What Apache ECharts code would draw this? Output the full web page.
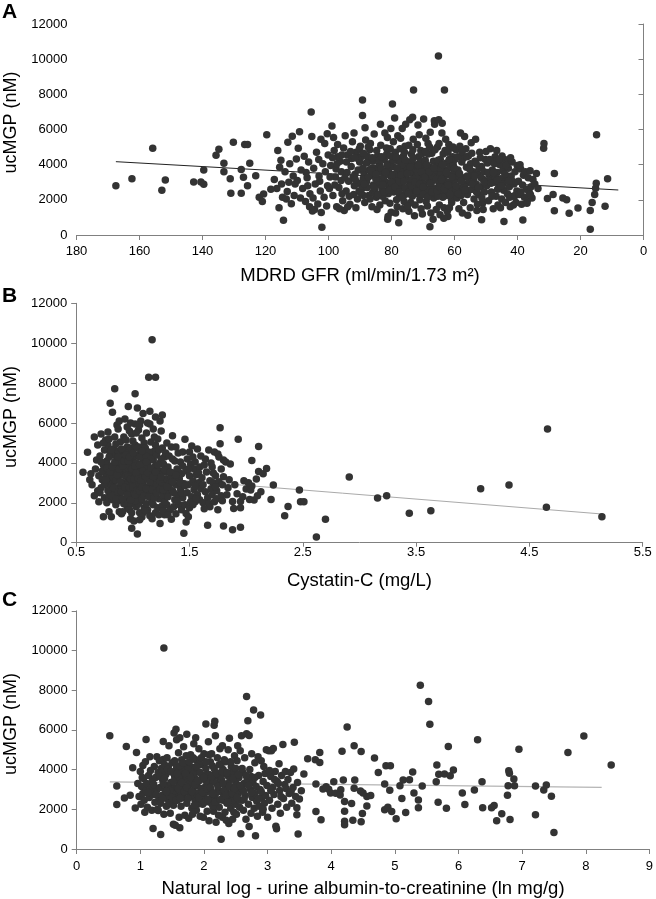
<!DOCTYPE html>
<html>
<head>
<meta charset="utf-8">
<script src="https://cdn.jsdelivr.net/npm/echarts@6/dist/echarts.min.js"></script>
<style>
html,body{margin:0;padding:0;background:#fff;}
#chart{width:656px;height:899px;}
</style>
</head>
<body>
<div id="chart"></div>
<script>
// ---------- tick values ----------
const yTicks = [0, 2000, 4000, 6000, 8000, 10000, 12000];
const aTicksX = [0, 20, 40, 60, 80, 100, 120, 140, 160, 180];
const bTicksX = [0.5, 1.5, 2.5, 3.5, 4.5, 5.5];
const cTicksX = [0, 1, 2, 3, 4, 5, 6, 7, 8, 9];

// ---------- texts ----------
const panelLetters = ['A', 'B', 'C'];
const yName = 'ucMGP (nM)';
const xNames = ['MDRD GFR (ml/min/1.73 m\u00b2)', 'Cystatin-C (mg/L)', 'Natural log - urine albumin-to-creatinine (ln mg/g)'];

// ---------- panel A : MDRD GFR vs ucMGP ----------
const gfrOutliers = [[167.5,2800],[162.4,3200],[155.8,4930],[152.9,2540],[151.8,3130],[142.8,3010],[140.5,3010],[139.6,2880],[139.6,3700],[135.7,4530],[134.8,4870],[133.2,4080],[133.2,3600],[131.2,3200],[131,2370],[130.2,5270],[127.7,3730],[127.7,2370],[127,3280],[126.6,5150],[125.7,5150],[125.7,2800],[125,4080],[123.1,3370],[122,2140],[121,1900],[120.6,2330],
[31.7,4930],[31.6,5200],[28.3,3500],[30.5,2070],[28.7,2300],[28.3,1380],[25.6,2100],[24.4,2000],[23.6,1240],[20.8,1530],[16.9,1390],[16.9,320],[16.3,1850],[15.5,2300],[15.2,2660],[15,2950],[14.9,5700],[12.2,1640],[11.4,3200]];
const gfrBand1 = [[119.6,5700],[116.1,4800],[115.7,1550],[114.3,840],[112.9,5270],[111.5,5620],[117.2,3150],[116.4,2650],[115.1,4250],[114.6,2150],[113.8,3600],[113.1,2480],[112.3,4050],[111.8,1780],[111.2,3350],[110.6,2900],[110.2,4320],[114.9,2900],[113.4,2050],[118.3,2600],[112.6,3000],[110.9,2250],[115.5,3850]];
const gfrBand2 = [[109.2,5870],[105.5,7000],[105.3,5600],[102.1,440],[109.6,4930],[108.7,3700],[108.2,2650],[107.7,4480],[107.3,1900],[106.8,3250],[106.3,4150],[105.9,2350],[105.1,1370],[104.7,3800],[104.2,2900],[103.8,4700],[103.4,1760],[103,3350],[102.6,2500],[102.3,1280],[101.8,4050],[101.4,2150],[101,3600],[100.6,1650],[100.3,2800],[100.1,4550],[108.9,2100],[107.1,3550],[104.9,2100],[103.1,4300],[101.2,5200],[100.4,5760],[106,1600],[109.9,3100],[104.4,1450],[102.8,3050],[106.6,2800],[102.4,5450]];
const gfrBand3 = [[99.3,3950],[98.9,6200],[98.6,2250],[98.2,4800],[97.8,3300],[97.4,1600],[97.1,5150],[96.7,2700],[96.3,4200],[95.9,3600],[95.5,1950],[95,1390],[94.7,5650],[94.4,2500],[94,4550],[93.6,3050],[93.2,1750],[92.8,3900],[92.4,5300],[92,2300],[91.6,3450],[91.2,4700],[90.8,2050],[90.4,2950],[90.1,4150],[99.7,2650],[98,2850],[97,4450],[96,3100],[95.2,4950],[94.1,3550],[93.4,2200],[92.6,4350],[91.8,2800],[90.6,3700],[89.9,5050],[96.5,1500],[93.9,1600],[91.3,1550],[99.5,3300],[97.6,3750],[95.7,2350],[94.8,3250],[92.2,3300],[90.3,2500],[98.4,5550],[91.9,5800],[89.2,7680],[89.2,6790],[88.4,6100]];
const gfrBand4 = [[79.7,7450],[77.7,700],[89.6,4450],[89.3,2650],[88.8,3550],[88.5,1850],[88.2,5400],[87.9,3050],[87.6,4150],[87.2,2250],[86.9,4850],[86.5,3400],[86.2,1600],[85.8,2850],[85.5,5750],[85.1,3800],[84.8,2150],[84.4,4500],[84.1,3200],[83.7,1700],[83.4,5100],[83,2600],[82.7,3650],[82.3,4300],[82,1950],[81.7,3000],[81.3,5550],[81,2350],[80.6,4050],[80.3,3350],[80.1,1300],[88.9,2250],[87.1,3700],[86,2400],[85.2,4350],[84.6,1450],[83.2,3000],[82.1,5800],[81.5,4600],[80.8,2800],[80.2,6050],[86.7,5200],[84,3600],[82.9,2200],[81.2,900],[80.5,1800],[87.7,2700],[85.4,2550],[83.8,4000],[82.5,3300],[81.8,2500],[80.9,3700],[88,4100],[86.3,3800],[84.2,2850],[83.5,6300],[81.1,1050],[89,3200],[85,3200],[80.4,4900]];
const gfrBand5 = [[73,8250],[79.6,3900],[79.3,2450],[79,6650],[78.8,4700],[78.5,3150],[78.2,1600],[78,5650],[77.8,3550],[77.5,2150],[77.2,4350],[76.9,2850],[76.6,6050],[76.3,3700],[76,1900],[75.7,5050],[75.4,3300],[75.1,2550],[74.8,4150],[74.5,1350],[74.2,6550],[74,3000],[73.7,4600],[73.4,2200],[73.1,5450],[72.8,3500],[72.5,1700],[72.2,4000],[71.9,2800],[71.6,6250],[71.3,3250],[71,2000],[70.7,4800],[70.4,3050],[70.2,1200],[79.8,2900],[79.1,3450],[78.4,2000],[77.9,4200],[77.4,2700],[76.8,3350],[76.2,4500],[75.8,2300],[75.2,3850],[74.7,2750],[74.3,3550],[73.9,1850],[73.5,3150],[72.9,2550],[72.4,3750],[71.8,2350],[71.4,4450],[70.8,2650],[70.3,3900],[79.4,5300],[77.1,5500],[75.5,6300],[73.3,6700],[71.2,5700],[78.7,1250],[76.4,1500],[74.9,1650],[72.7,1100],[70.6,1500],[79.9,3400],[77.6,3000],[75.9,2650],[74.4,2450],[72.1,3300],[70.1,3500],[78.1,2600],[76.7,4000],[73.8,4100],[71.7,3600],[70.9,4150]];
const gfrBand6 = [[67.8,470],[65.1,10180],[63.2,8250],[69.8,6600],[69.6,2900],[69.3,4250],[69,1900],[68.7,3500],[68.4,5200],[68.1,2400],[67.8,3850],[67.5,1250],[67.2,4650],[66.9,3100],[66.6,2100],[66.3,6300],[66,3600],[65.7,2650],[65.4,5000],[65.1,3300],[64.8,1700],[64.5,4300],[64.2,2500],[63.9,6350],[63.6,3050],[63.3,1550],[63,4800],[62.7,2250],[62.4,3700],[62.1,1050],[61.8,5150],[61.5,2700],[61.2,3400],[60.9,1850],[60.6,4450],[60.3,2950],[60.1,2300],[69.5,3700],[68.9,2600],[68.2,3200],[67.4,2800],[66.7,4200],[66.1,2350],[65.5,3950],[64.9,2950],[64.3,3550],[63.7,2150],[63.1,3350],[62.5,4100],[61.9,2450],[61.3,3850],[60.7,2600],[60.2,3550],[69.1,5500],[67.7,5850],[66.4,6500],[65,6550],[64,5800],[62.8,5450],[61.1,4950],[68.6,1650],[66.8,900],[65.8,1450],[64.6,1150],[63.4,950],[62.3,1350],[61.6,1550],[69.9,2300],[68.3,4600],[67,3350],[65.3,2200],[64.4,3800],[63.5,2750],[62.2,3000],[61,2050],[60.4,4000]];
const gfrBand7 = [[55.8,1130],[51.4,870],[59.8,3150],[59.5,4850],[59.2,2100],[58.9,3700],[58.6,1500],[58.3,5050],[58,2650],[57.7,4150],[57.4,3250],[57.1,1850],[56.8,5600],[56.5,2900],[56.2,3850],[55.9,2300],[55.6,4500],[55.3,3100],[55,1550],[54.7,5250],[54.4,2600],[54.1,3600],[53.8,2050],[53.5,4200],[53.2,2900],[52.9,1400],[52.6,3450],[52.3,2300],[52,4700],[51.7,2750],[51.4,3900],[51.1,1800],[50.8,3150],[50.5,2450],[50.2,4300],[59.6,2600],[58.7,3350],[57.9,2250],[57.2,2750],[56.4,4900],[55.4,2550],[54.6,3450],[53.9,3050],[53,2450],[52.2,3800],[51.3,2100],[50.6,3600],[59.9,4300],[58.1,5800],[54.9,4050],[53.3,5450],[57.5,1250],[52.7,1750],[50.9,1450]];
const gfrBand8 = [[44.3,770],[38.3,860],[49.8,2800],[49.5,4100],[49.2,1950],[48.9,3400],[48.6,4900],[48.3,2450],[48,3700],[47.7,1500],[47.4,3000],[47.1,4450],[46.8,2200],[46.5,3550],[46.2,1700],[45.9,2750],[45.6,4000],[45.3,3200],[45,2050],[44.7,3650],[44.4,2550],[44.1,4300],[43.8,1850],[43.5,3100],[43.2,2350],[42.9,3800],[42.6,2750],[42.3,1600],[42,3350],[41.7,4150],[41.4,2200],[41.1,2900],[40.8,3600],[40.5,1850],[40.2,2500],[49,3100],[48.1,2200],[47.2,3300],[46.3,2600],[45.4,1550],[44.6,2900],[43.4,3350],[42.5,2150],[41.6,3050],[40.7,2250],[47.9,4200],[46.6,4800],[44.9,4500],[43,4150],[41.3,1700],[40.1,3950]];
const gfrBand9 = [[39.7,3050],[39.4,2300],[39,3750],[38.7,1750],[38.4,2850],[38.1,3400],[37.8,2150],[37.5,3600],[37.2,2600],[36.9,1950],[36.6,3250],[36.3,2450],[36,3650],[35.7,2750],[35.4,2100],[35.1,3150],[34.5,2900],[34,3500],[33.5,2650],[39.2,4000],[37,1800],[35.9,2300],[38.9,2450]];
const gfrCore = [[91.5,3150],[90.7,4350],[89.8,2400],[89.1,3800],[88.6,2900],[87.8,4500],[87.3,3300],[86.8,2050],[86.4,3650],[85.9,4200],[85.6,2700],[84.9,3450],[84.3,2300],[83.9,4250],[83.3,3800],[82.8,2850],[82.4,2450],[81.9,3550],[81.4,4000],[80.7,2550],[80,3000],[79.5,4250],[78.9,2750],[78.3,3800],[77.7,2450],[77,3400],[76.5,2150],[76.1,3050],[75.6,4250],[75,3500],[74.6,2350],[74.1,3850],[73.6,2800],[73.2,4350],[72.6,3000],[72,2500],[71.5,3950],[71.1,2900],[70.5,3600],[70,2750],[69.4,3300],[68.8,4000],[68.5,2150],[68,3600],[67.6,2950],[67.1,2450],[66.5,3800],[65.9,3150],[65.6,2500],[65.2,4250],[64.7,2750],[64.1,3150],[63.8,4000],[63.2,2650],[62.6,3550],[62,2850],[61.7,4300],[61.4,2300],[60.8,3300],[60,3800],[59.4,2800],[58.8,2350],[58.4,3500],[57.8,3050],[57.3,4350],[56.7,2550],[56,3350],[55.2,3750],[54.3,2900],[53.6,3350],[52.4,2700],[51.6,3250],[50.4,3000],[49.4,3550],[48.4,2950],[47.6,3550],[46.4,3100],[45.1,2800],[44,3450],[42.8,3050]];
const gfrUpper = [[98.7,4400],[97.3,4050],[95.8,4550],[94.3,4150],[93,4750],[91.7,4400],[90.2,4900],[88.9,4650],[87.4,5000],[86.1,4400],[84.7,4800],[83.1,4450],[81.6,4950],[80.4,4500],[78.6,4450],[77.3,4900],[75.9,4700],[74.5,5100],[73.2,4850],[71.8,5150],[70.4,4600],[69.2,4750],[67.9,5000],[66.2,4850],[64.9,5200],[63.6,4600],[62.1,4700],[60.5,5000],[59,4450],[57.6,4700],[56.1,4450],[54.5,4650],[53.1,4050],[51.8,4400],[50,4750],[48.8,4300],[47.3,4050],[45.8,4300],[43.7,3950],[42.2,4400]];
const gfrFit = [[167.5,4170],[8,2560]];

// ---------- panel B : Cystatin-C vs ucMGP ----------
const cysBand1 = [[0.56,3530],[0.60,4540],[0.62,3150],[0.64,2900],[0.66,5300],[0.67,3700],[0.68,4150],[0.69,2600],[0.7,3350],[0.66,2350],[0.69,4900],[0.63,3450],[0.7,2050],
[0.71,4350],[0.72,5450],[0.72,2750],[0.73,3150],[0.74,1300],[0.74,3900],[0.75,4650],[0.75,2250],[0.76,5150],[0.76,3450],[0.77,2000],[0.77,4100],[0.78,2950],[0.78,5550],[0.79,3650],[0.79,1550],[0.80,6990],[0.80,2600],[0.80,4450],[0.73,3600],[0.75,2900],[0.78,4900],[0.71,2500],[0.79,2300],[0.76,4000],[0.77,3300],[0.74,5000],[0.72,4050],[0.8,3250],[0.79,5200]];
const cysBand2 = [[0.81,1300],[0.81,3850],[0.82,6540],[0.82,2150],[0.83,4700],[0.83,3050],[0.84,7716],[0.84,2500],[0.84,5300],[0.85,3500],[0.85,1900],[0.86,4200],[0.86,2750],[0.87,5700],[0.87,3250],[0.88,1550],[0.88,4550],[0.88,2300],[0.89,3800],[0.89,5050],[0.9,2900],[0.9,4350],[0.9,1450],[0.82,4400],[0.83,3550],[0.85,4950],[0.86,3900],[0.87,2100],[0.88,3400],[0.89,2650],[0.81,2800],[0.84,3150],[0.86,5900],[0.89,4100],[0.83,2450],[0.85,4400],[0.87,4600],[0.9,3650],[0.82,3300],[0.88,6100]];
const cysBand3 = [[0.91,1550],[0.91,3400],[0.92,5300],[0.92,2600],[0.93,4050],[0.93,6200],[0.94,2200],[0.94,3700],[0.95,4800],[0.95,1800],[0.96,6825],[0.96,3000],[0.96,4450],[0.97,2400],[0.97,5600],[0.98,3550],[0.98,1200],[0.99,723],[0.99,4250],[0.99,2800],[1.0,5100],[1.0,3250],[1.0,1950],[0.92,3000],[0.93,4600],[0.94,2900],[0.95,3300],[0.95,5800],[0.97,3900],[0.97,2000],[0.98,4750],[0.98,2600],[0.99,3100],[1.0,4050],[1.0,2450],[0.91,4300],[0.94,5150],[0.96,2350],[0.99,5450],[0.93,3350],[0.96,3750],[0.92,1950],[0.97,1650],[0.99,1500],[0.95,2650],[0.98,6000]];
const cysBand4 = [[1.01,1093],[1.01,3650],[1.02,7463],[1.02,2750],[1.02,4900],[1.03,1800],[1.03,3200],[1.04,6757],[1.04,437],[1.04,4400],[1.05,2300],[1.05,5650],[1.05,3750],[1.06,1500],[1.06,2950],[1.07,4650],[1.07,2100],[1.07,6100],[1.08,1294],[1.08,3400],[1.08,5250],[1.09,6470],[1.09,2550],[1.09,4100],[1.1,1750],[1.1,3550],[1.1,5000],[1.01,4300],[1.03,5500],[1.03,2450],[1.04,3450],[1.05,1950],[1.06,4300],[1.06,3300],[1.07,2600],[1.08,3950],[1.08,2200],[1.09,3050],[1.1,2800],[1.1,4550],[1.02,2100],[1.04,3000],[1.06,5900],[1.09,1500],[1.01,2550],[1.05,4800],[1.07,3700],[1.03,4000],[1.02,5950],[1.06,1150]];
const cysBand5 = [[1.11,4750],[1.11,2350],[1.12,3200],[1.12,5500],[1.13,1650],[1.13,4000],[1.14,8287],[1.14,2800],[1.15,6590],[1.15,3650],[1.15,1350],[1.16,5050],[1.16,2250],[1.17,10170],[1.17,4300],[1.17,3000],[1.18,1900],[1.18,5700],[1.18,3550],[1.19,2600],[1.19,4600],[1.2,8287],[1.2,6300],[1.2,1500],[1.2,3850],[1.11,3800],[1.12,1950],[1.13,2600],[1.14,4550],[1.15,5950],[1.16,3350],[1.17,2050],[1.18,4150],[1.19,3200],[1.2,2400],[1.12,4350],[1.14,3400],[1.16,4200],[1.19,5300],[1.13,6000],[1.18,2750],[1.11,1600],[1.15,2550],[1.2,4900],[1.17,1200]];
const cysBand6 = [[1.21,2900],[1.21,4400],[1.22,1750],[1.22,5200],[1.23,3300],[1.23,2200],[1.24,958],[1.24,4000],[1.24,6100],[1.25,2600],[1.25,3600],[1.26,6405],[1.26,1850],[1.26,4750],[1.27,3000],[1.27,2350],[1.28,4300],[1.28,1400],[1.29,3550],[1.29,2700],[1.3,5000],[1.3,1900],[1.3,3200],[1.21,3700],[1.22,2600],[1.23,4650],[1.25,4200],[1.25,5600],[1.27,3950],[1.28,2050],[1.29,4500],[1.3,2500],[1.23,1400],[1.27,1600],[1.24,3100],[1.26,2850]];
const cysBand7 = [[1.31,3800],[1.31,2300],[1.32,4350],[1.33,1650],[1.33,3000],[1.34,1177],[1.34,4800],[1.35,5360],[1.35,2600],[1.36,1800],[1.36,3500],[1.37,4100],[1.37,2150],[1.38,2900],[1.38,1450],[1.39,3700],[1.4,4500],[1.4,2400],[1.41,3200],[1.41,1900],[1.42,4050],[1.42,2700],[1.43,3450],[1.43,1650],[1.44,4550],[1.44,2250],[1.45,2950],[1.32,2800],[1.34,3300],[1.36,2500],[1.39,2100],[1.4,3550],[1.42,3000],[1.44,3850],[1.35,4200],[1.38,4800],[1.31,1400],[1.37,3250],[1.43,2500]];
const cysBand8 = [[1.45,470],[1.46,5180],[1.46,1900],[1.47,1042],[1.47,1462],[1.47,3600],[1.48,2500],[1.48,4200],[1.49,2900],[1.5,3350],[1.5,1750],[1.51,3950],[1.52,2300],[1.52,4850],[1.53,3100],[1.54,2650],[1.54,3700],[1.55,2050],[1.55,4050],[1.56,3400],[1.57,2400],[1.57,4700],[1.58,3000],[1.59,2150],[1.59,3800],[1.6,2700],[1.6,4350],[1.49,3700],[1.51,2050],[1.53,4300],[1.56,2200],[1.58,3500],[1.46,2850],[1.5,4550],[1.55,2850],[1.49,1300],[1.53,1900]];
const cysBand9 = [[1.61,3250],[1.62,2000],[1.63,3900],[1.64,2550],[1.65,3550],[1.66,875],[1.66,2250],[1.67,4650],[1.67,1965],[1.68,3100],[1.69,2700],[1.7,3800],[1.7,2400],[1.71,3000],[1.72,2050],[1.72,4550],[1.73,3350],[1.74,2600],[1.75,4450],[1.75,1650],[1.76,3050],[1.77,5765],[1.77,4960],[1.78,2350],[1.78,3700],[1.79,2900],[1.8,840],[1.8,3300],[1.8,4150],[1.62,2900],[1.64,4200],[1.68,1800],[1.71,3500],[1.74,2200],[1.76,4300],[1.79,2100],[1.63,1700],[1.69,4000],[1.73,2800]];
const cysBand10 = [[1.82,4050],[1.84,2750],[1.86,3950],[1.88,655],[1.88,2070],[1.89,1715],[1.93,5180],[1.95,775],[1.95,2070],[1.95,1750],[1.98,3110],[2.0,2690],[2.04,2640],[2.05,2840],[2.05,4120],[2.07,2135],[2.09,3195],[2.11,4825],[2.11,3565],[2.13,2555],[2.15,3450],[2.18,3715],[2.22,2170],[2.24,2890],[2.03,2170],[1.83,2400],[1.85,3150],[1.9,2900],[1.92,2450],[1.97,2300],[2.1,2350],[2.02,3000]];
const cysCore = [[0.76,3150],[0.77,3750],[0.78,2600],[0.79,4300],[0.8,3550],[0.81,2350],[0.81,4650],[0.82,3800],[0.83,2750],[0.84,4050],[0.85,3150],[0.85,2200],[0.86,3400],[0.87,4300],[0.87,2550],[0.88,3700],[0.89,3050],[0.9,2550],[0.9,4700],[0.91,3850],[0.91,2200],[0.92,4100],[0.93,2800],[0.94,3350],[0.94,4400],[0.95,2400],[0.96,4100],[0.96,3300],[0.97,2750],[0.97,4300],[0.98,3200],[0.98,2150],[0.99,3700],[1.0,2800],[1.0,4500],[1.01,3200],[1.02,3850],[1.02,2400],[1.03,3500],[1.04,2650],[1.04,4750],[1.05,3200],[1.06,2600],[1.06,3900],[1.07,3100],[1.08,4600],[1.08,2800],[1.09,3600],[1.1,2350],[1.11,3300],[1.12,2700],[1.12,4050],[1.13,3500],[1.14,2300],[1.15,3050],[1.16,3750],[1.17,2650],[1.18,3300],[1.19,2250],[1.2,3550],[1.21,2500],[1.22,3900],[1.24,2700],[1.25,3300],[1.27,2650],[1.28,3650],[1.3,2800],[1.33,3550],[1.35,3050],[1.38,3400]];
const cysOutliers = [[2.34,1345],[2.37,1815],[2.47,2640],[2.48,2050],[2.51,2050],[2.62,285],[2.70,1177],[2.91,3295],[3.16,2235],[3.24,2355],[3.44,1480],[3.63,1600],[4.07,2705],[4.32,2890],[4.66,5700],[4.65,1780],[5.14,1295]];
const cysFit = [[0.55,3530],[5.15,1435]];

// ---------- panel C : ln urine ACR vs ucMGP ----------
const acrLeft = [[0.52,5700],[0.63,3175],[0.63,2240],[0.78,5160],[0.75,2570],[0.84,2710],[0.88,4095],[0.94,4860],[0.92,2070],[1.09,5515],[1.04,4210],[1.07,1855],[1.2,1036],[1.32,735],[1.37,10126],[1.36,5414],[1.26,4645],[1.28,1940],[1.36,4510],[1.62,1070],[1.52,1253]];
const acrBand1 = [[0.96,3300],[0.98,2650],[1.0,3900],[1.01,2250],[1.02,3150],[1.04,2800],[1.05,3550],[1.06,2450],[1.08,4400],[1.09,2950],[1.1,3300],[1.11,2100],[1.13,3700],[1.14,2600],[1.15,4650],[1.17,3050],[1.18,1950],[1.19,3450],[1.2,2750],[1.22,4150],[1.23,2350],[1.24,3600],[1.26,3000],[1.27,2000],[1.28,3850],[1.29,2600],[1.3,4450],[1.16,3950],[1.21,3250],[1.25,2750],[1.12,2850],[1.03,3600]];
const acrBand2 = [[1.31,3100],[1.32,2300],[1.33,4050],[1.34,2700],[1.35,3500],[1.37,1750],[1.38,4250],[1.39,2950],[1.4,3750],[1.41,2150],[1.42,4600],[1.43,3200],[1.44,2500],[1.45,5200],[1.46,3900],[1.47,1800],[1.48,3350],[1.49,2750],[1.5,4350],[1.51,3050],[1.52,2200],[1.53,5850],[1.54,3650],[1.55,1200],[1.55,2800],[1.56,6030],[1.57,4100],[1.58,2450],[1.59,3400],[1.6,4850],[1.61,1600],[1.62,2950],[1.63,3800],[1.64,2150],[1.65,4500],[1.66,3250],[1.67,2600],[1.68,5150],[1.69,3600],[1.7,1700],[1.36,3300],[1.44,4150],[1.51,3850],[1.58,3100],[1.64,2700],[1.7,4200],[1.4,2600],[1.47,2950],[1.53,2550],[1.6,3650],[1.66,4000],[1.34,3850],[1.62,5600],[1.57,5500]];
const acrBand3 = [[1.71,2900],[1.72,3500],[1.73,5780],[1.73,2300],[1.74,4300],[1.75,3150],[1.76,1550],[1.77,3850],[1.78,2650],[1.79,4750],[1.8,3350],[1.81,2050],[1.82,4100],[1.83,2950],[1.84,5300],[1.85,3600],[1.86,2450],[1.87,4500],[1.88,1950],[1.89,3200],[1.9,3900],[1.91,2700],[1.92,5050],[1.93,3450],[1.94,1650],[1.95,4250],[1.96,2950],[1.97,3700],[1.98,2250],[1.99,1604],[2.0,4800],[2.01,3100],[2.02,2550],[2.03,6300],[2.03,4050],[2.04,3400],[2.05,1900],[2.06,2900],[2.07,5400],[2.08,1420],[2.08,3750],[2.09,2350],[2.1,4400],[1.75,4000],[1.8,2700],[1.85,3950],[1.9,2250],[1.95,3050],[2.0,2800],[2.05,3500],[1.78,3300],[1.83,3750],[1.88,2800],[1.93,4300],[1.97,2450],[2.02,3700],[2.07,3250],[1.82,1750],[1.87,5600],[1.72,4700]];
const acrBand4 = [[2.11,3000],[2.12,2600],[2.13,4200],[2.14,3500],[2.15,1900],[2.16,6233],[2.17,6433],[2.17,2750],[2.18,5700],[2.18,3850],[2.19,1350],[2.2,3300],[2.21,4600],[2.22,2450],[2.23,3650],[2.24,2100],[2.25,5050],[2.26,2900],[2.27,485],[2.28,3450],[2.29,5200],[2.29,1600],[2.3,4000],[2.31,2650],[2.32,3250],[2.33,1850],[2.34,4400],[2.35,3000],[2.36,2300],[2.37,3700],[2.38,5000],[2.39,1287],[2.39,2700],[2.4,5580],[2.41,3500],[2.42,2050],[2.43,4150],[2.44,3100],[2.45,1500],[2.46,2600],[2.47,3900],[2.48,4700],[2.49,2250],[2.5,3350],[2.14,2150],[2.2,2850],[2.26,3700],[2.32,2950],[2.38,3300],[2.44,2400],[2.12,4800],[2.23,1700],[2.35,1450],[2.47,1850],[2.3,2450],[2.42,3800],[2.15,3400],[2.27,4300]];
const acrBand5 = [[2.51,1750],[2.52,4450],[2.53,5200],[2.54,2800],[2.55,3600],[2.56,2100],[2.57,4950],[2.58,769],[2.58,3100],[2.59,5700],[2.6,2450],[2.61,3850],[2.62,1950],[2.63,3300],[2.64,4600],[2.65,2700],[2.66,1500],[2.67,7687],[2.67,5800],[2.68,3500],[2.69,6467],[2.7,2250],[2.71,5715],[2.71,1136],[2.72,4000],[2.73,3000],[2.74,1800],[2.75,4800],[2.76,2600],[2.77,3350],[2.78,7000],[2.79,2050],[2.8,4350],[2.81,668],[2.82,3150],[2.83,2400],[2.84,1650],[2.85,4650],[2.86,3700],[2.87,2150],[2.88,3000],[2.89,6750],[2.9,4450],[2.91,2600],[2.92,1850],[2.93,3400],[2.94,4150],[2.95,2300],[2.96,3800],[2.97,2700],[2.98,5000],[2.99,3200],[2.55,2450],[2.62,2950],[2.74,3650],[2.8,2800],[2.86,2550],[2.93,2000]];
const acrBand6 = [[3.0,1600],[3.02,4950],[3.03,2450],[3.05,3650],[3.06,4946],[3.07,2050],[3.08,3100],[3.09,5063],[3.1,2750],[3.12,3900],[3.13,1150],[3.14,1020],[3.15,3400],[3.16,2250],[3.18,4300],[3.19,2950],[3.2,1800],[3.22,3700],[3.24,5263],[3.25,2550],[3.27,3250],[3.28,3900],[3.3,2100],[3.32,3500],[3.34,2800],[3.36,3850],[3.38,2300],[3.4,3100],[3.41,4027],[3.42,5380],[3.44,2650],[3.46,2072],[3.46,1721],[3.48,752],[3.47,3350],[3.05,2950],[3.11,3500],[3.21,2650],[3.29,3050],[3.37,2900],[3.03,3950],[3.17,3300]];
const acrCore = [[1.31,3650],[1.35,2550],[1.38,3550],[1.41,2900],[1.43,4000],[1.45,2300],[1.48,3900],[1.5,2600],[1.52,3400],[1.54,4450],[1.56,2450],[1.58,3800],[1.6,3050],[1.62,4200],[1.63,2550],[1.65,3350],[1.67,4350],[1.69,2900],[1.71,3800],[1.73,3100],[1.75,2550],[1.77,4400],[1.79,3600],[1.81,2900],[1.83,4600],[1.85,2200],[1.86,3250],[1.88,4150],[1.9,3450],[1.92,2600],[1.94,3850],[1.96,4600],[1.98,2850],[2.0,3600],[2.01,2350],[2.03,4400],[2.05,3050],[2.06,2500],[2.08,4750],[2.1,3100],[2.12,3650],[2.14,2800],[2.16,4050],[2.18,2350],[2.2,3800],[2.22,3150],[2.24,4250],[2.26,2500],[2.28,3900],[2.3,3300],[2.32,4500],[2.34,2700],[2.36,3850],[2.38,2350],[2.4,3150],[2.42,4400],[2.44,2800],[2.46,3550],[2.48,3050],[2.5,4050],[2.52,2600],[2.54,3750],[2.57,3200],[2.6,4050],[2.63,2500],[2.66,3700],[2.7,3200],[2.75,2850],[2.8,3600],[2.9,2900]];
const acrRight = [[3.63,4545],[3.75,4495],[3.82,4862],[3.82,4361],[3.76,1888],[3.84,1470],[3.57,3776],[3.53,2940],[3.50,2523],[3.76,3275],[3.87,3025],[3.96,3008],[3.99,2824],[4.04,3392],[3.92,3141],
[4.17,4929],[4.25,6149],[4.36,5197],[4.47,4913],[4.19,3476],[4.37,3476],[4.36,3058],[4.32,2289],[4.21,2390],[4.21,1905],[4.21,1404],[4.21,1220],[4.34,1454],[4.47,1370],[4.49,1788],[4.56,2640],[4.56,2172],[4.62,2690],[4.68,4579],[4.74,3860],[4.86,4194],[4.93,4194],[4.92,2958],[4.84,1972],[4.89,2105],[4.95,1888],[5.02,1520],[4.84,3275],[4.15,2991],[4.07,2807],[4.14,2724],[4.50,2824],[4.46,2924],
[5.08,3192],[5.11,2540],[5.17,1838],[5.13,3476],[5.23,3492],[5.28,3877],[5.30,2824],[5.37,2473],[5.37,2072],[5.40,8255],[5.43,3175],[5.53,7436],[5.55,6283],[5.66,4228],[5.68,2356],[5.65,3392],[5.69,3760],[5.78,3776],[5.81,2055],[5.84,5163],[5.87,3693],[5.92,3977],
[6.06,2824],[6.10,2239],[6.25,2974],[6.30,5498],[6.37,3392],[6.38,2072],[6.52,2072],[6.56,2189],[6.60,1420],[6.68,1771],[6.78,3192],[6.77,2707],[6.79,3944],[6.80,3810],[6.81,1487],[6.87,3526],[6.88,3192],[6.95,5030],
[7.21,3175],[7.21,1721],[7.34,2974],[7.38,3225],[7.46,2657],[7.50,836],[7.72,4862],[7.97,5698],[8.40,4228]];
const acrFit = [[0.52,3380],[8.25,3100]];

// ---------- build ----------
const panelA = [].concat(gfrOutliers, gfrBand1, gfrBand2, gfrBand3, gfrBand4, gfrBand5, gfrBand6, gfrBand7, gfrBand8, gfrBand9, gfrCore, gfrUpper);
const panelB = [].concat(cysBand1, cysBand2, cysBand3, cysBand4, cysBand5, cysBand6, cysBand7, cysBand8, cysBand9, cysBand10, cysCore, cysOutliers);
const panelC = [].concat(acrLeft, acrBand1, acrBand2, acrBand3, acrBand4, acrBand5, acrBand6, acrCore, acrRight);

const FONT = '"Liberation Sans", Arial, sans-serif';
const grids = [
  {left: 76.5, top: 24, width: 567, height: 211},
  {left: 76.2, top: 303.3, width: 566.5, height: 239.4},
  {left: 76.7, top: 610.8, width: 574.3, height: 239.2}
];
const axisLine = {show: true, lineStyle: {color: '#808080', width: 1}};
const tickStyle = {show: true, length: 5, lineStyle: {color: '#808080', width: 1}};
const lblStyle = {color: '#000', fontFamily: FONT, fontSize: 13, formatter: v => String(v)};

function yAxis(i) {
  return {
    type: 'value', gridIndex: i, min: 0, max: 12000, interval: 2000,
    axisLine: axisLine, axisTick: tickStyle, splitLine: {show: false},
    axisLabel: Object.assign({}, lblStyle, {margin: 9, customValues: yTicks})
  };
}
const nameStyle = {color: '#000', fontFamily: FONT, fontSize: 18.5};
const DOT = 7.5;

const option = {
  animation: false,
  backgroundColor: '#fff',
  grid: grids,
  xAxis: [
    {type: 'value', gridIndex: 0, min: 0, max: 180, interval: 20, inverse: true,
     axisLine: axisLine, axisTick: Object.assign({}, tickStyle, {customValues: aTicksX}), splitLine: {show: false},
     axisLabel: Object.assign({}, lblStyle, {margin: 10, customValues: aTicksX}),
     name: xNames[0], nameLocation: 'middle', nameGap: 31, nameTextStyle: nameStyle},
    {type: 'value', gridIndex: 1, min: 0.5, max: 5.5,
     axisLine: axisLine, axisTick: Object.assign({}, tickStyle, {length: 4, customValues: bTicksX}), splitLine: {show: false},
     axisLabel: Object.assign({}, lblStyle, {margin: 3, customValues: bTicksX}),
     name: xNames[1], nameLocation: 'middle', nameGap: 29, nameTextStyle: nameStyle},
    {type: 'value', gridIndex: 2, min: 0, max: 9, interval: 1,
     axisLine: axisLine, axisTick: Object.assign({}, tickStyle, {customValues: cTicksX}), splitLine: {show: false},
     axisLabel: Object.assign({}, lblStyle, {margin: 11, customValues: cTicksX}),
     name: xNames[2], nameLocation: 'middle', nameGap: 30, nameTextStyle: nameStyle}
  ],
  yAxis: [yAxis(0), yAxis(1), yAxis(2)],
  series: [
    {type: 'line', xAxisIndex: 0, yAxisIndex: 0, data: gfrFit, showSymbol: false, silent: true, z: 1,
     lineStyle: {color: '#222', width: 1}},
    {type: 'line', xAxisIndex: 1, yAxisIndex: 1, data: cysFit, showSymbol: false, silent: true, z: 1,
     lineStyle: {color: '#aaa', width: 1}},
    {type: 'line', xAxisIndex: 2, yAxisIndex: 2, data: acrFit, showSymbol: false, silent: true, z: 1,
     lineStyle: {color: '#b4b4b4', width: 1.2}},
    {type: 'scatter', xAxisIndex: 0, yAxisIndex: 0, data: panelA, symbolSize: DOT, silent: true, z: 2,
     itemStyle: {color: '#333', opacity: 1}},
    {type: 'scatter', xAxisIndex: 1, yAxisIndex: 1, data: panelB, symbolSize: DOT, silent: true, z: 2,
     itemStyle: {color: '#333', opacity: 1}},
    {type: 'scatter', xAxisIndex: 2, yAxisIndex: 2, data: panelC, symbolSize: DOT, silent: true, z: 2,
     itemStyle: {color: '#333', opacity: 1}}
  ],
  graphic: [
    {type: 'text', left: 2, top: 2, style: {text: panelLetters[0], fontFamily: FONT, fontWeight: 'bold', fontSize: 21, fill: '#000'}},
    {type: 'text', left: 2, top: 286, style: {text: panelLetters[1], fontFamily: FONT, fontWeight: 'bold', fontSize: 21, fill: '#000'}},
    {type: 'text', left: 2, top: 590, style: {text: panelLetters[2], fontFamily: FONT, fontWeight: 'bold', fontSize: 21, fill: '#000'}},
    {type: 'text', x: 11, y: 122.5, rotation: Math.PI / 2, style: {text: yName, fontFamily: FONT, fontSize: 18, fill: '#000', textAlign: 'center', textVerticalAlign: 'middle'}},
    {type: 'text', x: 11, y: 417, rotation: Math.PI / 2, style: {text: yName, fontFamily: FONT, fontSize: 18, fill: '#000', textAlign: 'center', textVerticalAlign: 'middle'}},
    {type: 'text', x: 11, y: 724, rotation: Math.PI / 2, style: {text: yName, fontFamily: FONT, fontSize: 18, fill: '#000', textAlign: 'center', textVerticalAlign: 'middle'}}
  ]
};
const chart = echarts.init(document.getElementById('chart'), null, {renderer: 'canvas'});
chart.setOption(option);
</script>
</body>
</html>
